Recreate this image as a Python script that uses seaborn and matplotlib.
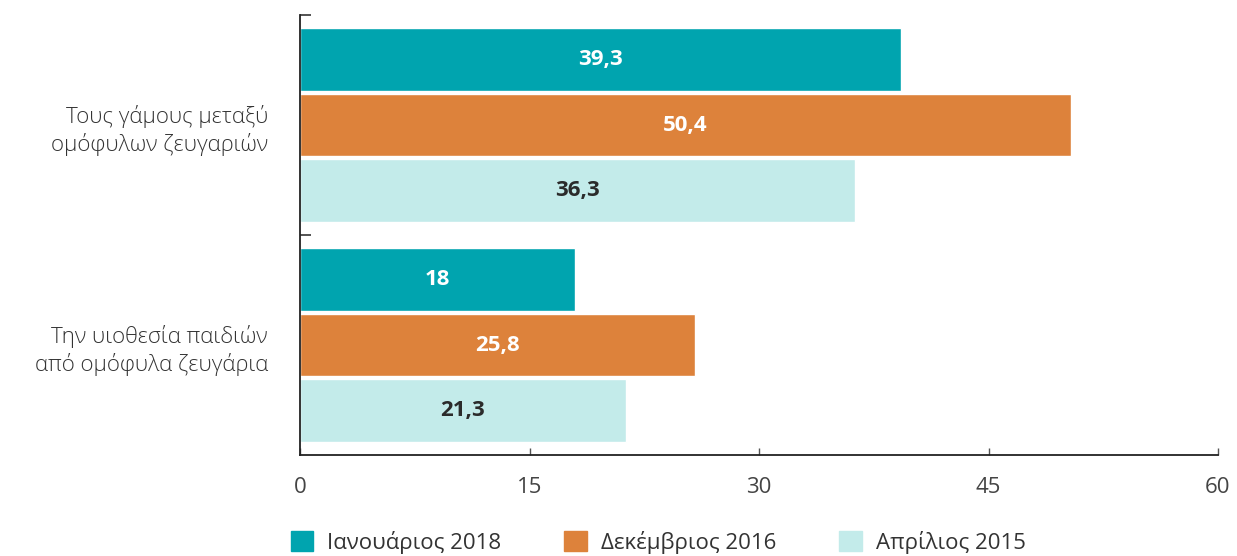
import pandas as pd
import matplotlib.pyplot as plt
import matplotlib.ticker as mticker
import seaborn as sns

# data
categories = ["Τους γάμους μεταξύ\nομόφυλων ζευγαριών",
              "Την υιοθεσία παιδιών\nαπό ομόφυλα ζευγάρια"]
periods = ["Ιανουάριος 2018", "Δεκέμβριος 2016", "Απρίλιος 2015"]
jan_2018 = [39.3, 18.0]
dec_2016 = [50.4, 25.8]
apr_2015 = [36.3, 21.3]
x_ticks = [0, 15, 30, 45, 60]

colors = ["#00A4AF", "#DD823B", "#C3EBEA"]
label_colors = ["white", "white", "#2b2b2b"]

df = pd.DataFrame({
    "cat": categories * 3,
    "period": [p for p in periods for _ in categories],
    "value": jan_2018 + dec_2016 + apr_2015,
})

sns.set_style("white")
plt.rcParams["font.family"] = ["Open Sans", "DejaVu Sans"]

fig = plt.figure(figsize=(12.37, 5.56), dpi=100)
ax = fig.add_axes([300 / 1237, 1 - 455 / 556, 918 / 1237, 440 / 556])

sns.barplot(data=df, y="cat", x="value", hue="period", hue_order=periods,
            order=categories, palette=colors, saturation=1, orient="h",
            width=0.89, gap=0.035, ax=ax, legend=True)

for cont, c in zip(ax.containers, label_colors):
    ax.bar_label(cont, labels=[f"{v:g}".replace(".", ",") for v in cont.datavalues],
                 label_type="center", color=c, fontsize=16, fontweight="bold")

ax.set_xlim(0, 60)
ax.set_ylim(1.5, -0.5)
ax.set_xticks(x_ticks)
ax.set_xlabel("")
ax.set_ylabel("")

sns.despine(ax=ax, top=True, right=True)
for s in ["left", "bottom"]:
    ax.spines[s].set_color("#222222")
    ax.spines[s].set_linewidth(1.3)

ax.tick_params(axis="x", direction="in", length=5, width=1, color="#555555",
               labelsize=16, labelcolor="#444444", pad=16, bottom=True)
ax.tick_params(axis="y", which="major", length=0, labelsize=16,
               labelcolor="#333333", pad=23)
ax.yaxis.set_minor_locator(mticker.FixedLocator([-0.5, 0.5]))
ax.tick_params(axis="y", which="minor", direction="in", length=8, width=1.3,
               color="#444444", left=True)
for lbl in ax.get_yticklabels():
    lbl.set_linespacing(1.3)
    lbl.set_ha("right")
    lbl.set_fontweight("light")

ax.get_legend().remove()
handles = [plt.Rectangle((0, 0), 1, 1, color=c) for c in colors]
fig.legend(handles, periods, loc="center", bbox_to_anchor=(0.532, 0.025),
           ncol=3, frameon=False, fontsize=16, handlelength=1.0,
           handleheight=1.0, handletextpad=0.63, columnspacing=2.85,
           labelcolor="#333333")

fig.savefig("out.png", dpi=100)
